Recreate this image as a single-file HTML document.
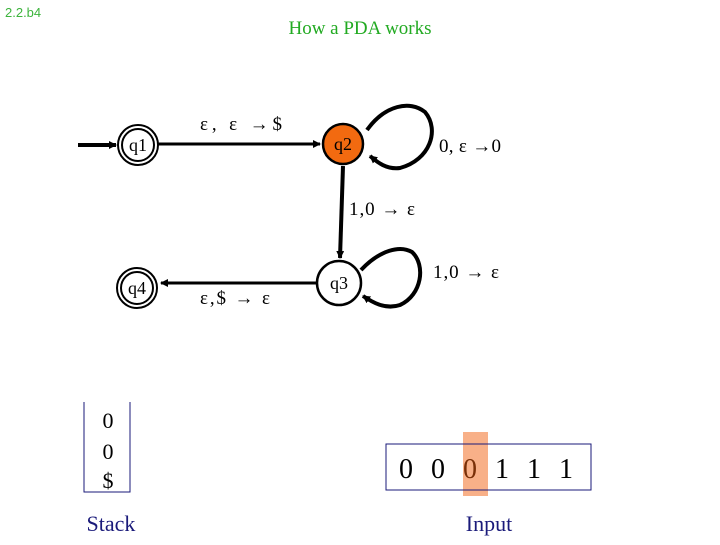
<!DOCTYPE html>
<html><head><meta charset="utf-8"><style>
body{margin:0;background:#fff;}
svg text{font-family:"Liberation Serif",serif;}
</style></head><body>
<svg width="720" height="540" viewBox="0 0 720 540" xmlns="http://www.w3.org/2000/svg">
<defs><marker id="a" markerWidth="8" markerHeight="8" refX="7" refY="4" orient="auto" markerUnits="userSpaceOnUse"><path d="M0,0 L8,4 L0,8 z" fill="#000"/></marker></defs>
<text x="5" y="17" style="font-family:'Liberation Sans',sans-serif" font-size="13" fill="#3cb43c">2.2.b4</text>
<text x="360" y="34" text-anchor="middle" font-size="19" fill="#22aa22">How a PDA works</text>
<line x1="78" y1="145" x2="116" y2="145" stroke="#000" stroke-width="4" marker-end="url(#a)"/>
<circle cx="138" cy="145" r="20" fill="#fff" stroke="#000" stroke-width="2"/>
<circle cx="138" cy="145" r="16" fill="#fff" stroke="#000" stroke-width="2"/>
<text x="138" y="151" text-anchor="middle" font-size="18">q1</text>
<line x1="158" y1="144" x2="320" y2="144" stroke="#000" stroke-width="3" marker-end="url(#a)"/>
<text x="241" y="130" text-anchor="middle" font-size="19" textLength="82" lengthAdjust="spacing">ε, ε →$</text>
<circle cx="343" cy="144" r="20" fill="#f26a10" stroke="#000" stroke-width="2.5"/>
<text x="343" y="150" text-anchor="middle" font-size="18">q2</text>
<path d="M367,130 C385,105 410,100 425,112 C440,130 430,160 400,168 C385,170 375,160 370,156" fill="none" stroke="#000" stroke-width="4" marker-end="url(#a)"/>
<text x="470" y="152" text-anchor="middle" font-size="19" textLength="62" lengthAdjust="spacing">0, ε →0</text>
<line x1="343" y1="166" x2="340" y2="258" stroke="#000" stroke-width="4" marker-end="url(#a)"/>
<text x="382" y="215" text-anchor="middle" font-size="19" textLength="66" lengthAdjust="spacing">1,0 → ε</text>
<circle cx="339" cy="283" r="22" fill="#fff" stroke="#000" stroke-width="2.5"/>
<text x="339" y="289" text-anchor="middle" font-size="18">q3</text>
<path d="M361,270 C380,250 400,245 412,252 C426,265 422,295 400,305 C385,310 372,302 363,296" fill="none" stroke="#000" stroke-width="4" marker-end="url(#a)"/>
<text x="466" y="278" text-anchor="middle" font-size="19" textLength="66" lengthAdjust="spacing">1,0 → ε</text>
<line x1="317" y1="283" x2="161" y2="283" stroke="#000" stroke-width="3" marker-end="url(#a)"/>
<text x="235" y="304" text-anchor="middle" font-size="19" textLength="70" lengthAdjust="spacing">ε,$ → ε</text>
<circle cx="137" cy="288" r="20" fill="#fff" stroke="#000" stroke-width="2"/>
<circle cx="137" cy="288" r="16" fill="#fff" stroke="#000" stroke-width="2"/>
<text x="137" y="294" text-anchor="middle" font-size="18">q4</text>
<path d="M84,402 L84,492 L130,492 L130,402" fill="none" stroke="#1a1a7a" stroke-width="1"/>
<text x="108" y="428" text-anchor="middle" font-size="22">0</text>
<text x="108" y="459" text-anchor="middle" font-size="22">0</text>
<text x="108" y="488" text-anchor="middle" font-size="22">$</text>
<text x="111" y="531" text-anchor="middle" font-size="22" fill="#1a1a7a">Stack</text>
<rect x="463" y="432" width="25" height="64" fill="#f8b088"/>
<rect x="386" y="444" width="205" height="46" fill="none" stroke="#1a1a7a" stroke-width="1"/>
<text x="406" y="478" text-anchor="middle" font-size="28">0</text>
<text x="438" y="478" text-anchor="middle" font-size="28">0</text>
<text x="470" y="478" text-anchor="middle" font-size="28" fill="#7a3008">0</text>
<text x="502" y="478" text-anchor="middle" font-size="28">1</text>
<text x="534" y="478" text-anchor="middle" font-size="28">1</text>
<text x="566" y="478" text-anchor="middle" font-size="28">1</text>
<text x="489" y="531" text-anchor="middle" font-size="22" fill="#1a1a7a">Input</text>
</svg>
</body></html>
